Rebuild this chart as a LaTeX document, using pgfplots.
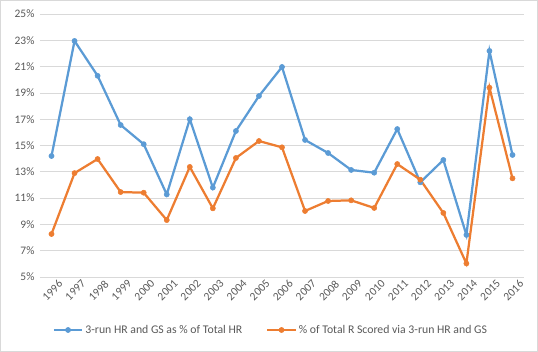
\documentclass[border=0pt]{standalone}
\usepackage{pgfplots}
\pgfplotsset{compat=1.18}
\usepackage{fontspec}
\setmainfont{Carlito}
\definecolor{cblue}{HTML}{5B9BD5}
\definecolor{corange}{HTML}{ED7D31}
\definecolor{gridc}{HTML}{D9D9D9}
\definecolor{txt}{HTML}{595959}
\begin{document}
\begin{tikzpicture}
\draw[gridc, line width=0.75pt] (0.4bp,0.4bp) rectangle (537.6bp,351.6bp);
\begin{axis}[
  at={(40bp,75bp)}, anchor=south west,
  scale only axis, width=484bp, height=263bp,
  xmin=-0.5, xmax=20.5, ymin=5, ymax=25,
  axis line style={draw=none},
  tick style={draw=none},
  ymajorgrids, grid style={gridc, line width=0.75pt},
  ytick={5,7,9,11,13,15,17,19,21,23,25},
  yticklabels={5\%,7\%,9\%,11\%,13\%,15\%,17\%,19\%,21\%,23\%,25\%},
  xtick={0,...,20},
  xticklabels={1996,1997,1998,1999,2000,2001,2002,2003,2004,2005,2006,2007,2008,2009,2010,2011,2012,2013,2014,2015,2016},
  xticklabel style={rotate=45, anchor=north east, font=\fontsize{11.5}{13}\selectfont, text=txt, inner sep=1pt, yshift=-5bp, xshift=4bp},
  yticklabel style={font=\fontsize{11.5}{13}\selectfont, text=txt, xshift=-2bp},
  legend columns=2,
  legend style={at={(0.477,-0.2015)}, anchor=center, draw=none, fill=none,
    font=\fontsize{11.8}{13}\selectfont, text=txt, inner sep=0pt,
    /tikz/every even column/.append style={column sep=22bp}},
  legend cell align=left,
  legend image code/.code={\draw[mark repeat=2,mark phase=2] plot coordinates {(0cm,0cm)(0.5cm,0cm)(1cm,0cm)};},
  every axis plot/.append style={line width=2.25pt, mark=*, mark size=2.6pt},
]
\addplot[cblue, mark options={fill=cblue, draw=cblue, line width=0.5pt}] coordinates {
(0,14.2) (1,22.95) (2,20.3) (3,16.56) (4,15.1) (5,11.28) (6,17.0) (7,11.8) (8,16.1) (9,18.76) (10,20.97)
(11,15.42) (12,14.43) (13,13.14) (14,12.93) (15,16.25) (16,12.2) (17,13.9) (18,8.2) (19,22.19) (20,14.28)};
\addlegendentry{3-run HR and GS as \% of Total HR}
\addplot[corange, mark options={fill=corange, draw=corange, line width=0.5pt}] coordinates {
(0,8.27) (1,12.9) (2,13.97) (3,11.46) (4,11.41) (5,9.33) (6,13.37) (7,10.22) (8,14.05) (9,15.34) (10,14.86)
(11,10.02) (12,10.78) (13,10.83) (14,10.25) (15,13.59) (16,12.4) (17,9.87) (18,6.03) (19,19.4) (20,12.5)};
\addlegendentry{\% of Total R Scored via 3-run HR and GS}
\end{axis}
\end{tikzpicture}
\end{document}
